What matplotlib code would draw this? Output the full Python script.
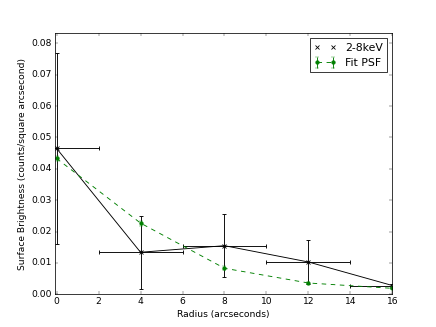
import matplotlib
matplotlib.use("Agg")
import matplotlib.pyplot as plt

plt.style.use('classic')

radius = [0, 4, 8, 12, 16]
sb_data = [0.0465, 0.0134, 0.0155, 0.0103, 0.0028]
sb_xerr = [2, 2, 2, 2, 2]
sb_yerr = [0.0305, 0.0116, 0.0100, 0.0069, 0.0004]
psf_fit = [0.0433, 0.0227, 0.0083, 0.0036, 0.0019]
psf_err = [0.0008, 0.0008, 0.0006, 0.0004, 0.0003]

fig = plt.figure(figsize=(8, 6), dpi=54.5)
ax = fig.add_subplot(111)
ax.plot(radius, sb_data, 'x', color='k', markersize=6, mew=1.1, label='2-8keV')
ax.errorbar(radius, sb_data, xerr=sb_xerr, yerr=sb_yerr, fmt='k-', capsize=3,
            lw=1.2, elinewidth=1.2, capthick=1.2)
ax.errorbar(radius, psf_fit, yerr=psf_err, fmt='g--', marker='o', markersize=5,
            markeredgecolor='g', capsize=3, lw=1.2, elinewidth=1.2, label='Fit PSF')
ax.set_xlim(-0.1, 16)
ax.set_ylim(0, 0.0834)
ax.set_xlabel('Radius (arcseconds)')
ax.set_ylabel('Surface Brightness (counts/square arcsecond)')
ax.legend(loc='upper right', numpoints=2)
fig.savefig('out.png', dpi=54.5)
